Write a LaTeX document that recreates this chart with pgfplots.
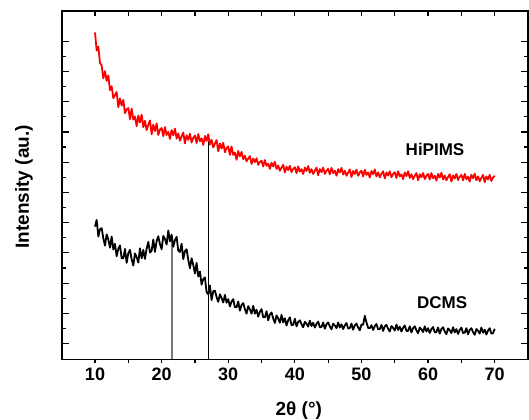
\documentclass[border=0pt]{standalone}
\usepackage{pgfplots}
\pgfplotsset{compat=1.18}
\usepackage{fontspec}
\setmainfont{Liberation Sans}
\definecolor{vgray}{RGB}{120,120,120}
\begin{document}
\begin{tikzpicture}
\pgfplotsset{
  common/.style={
    at={(30.85pt,29.85pt)}, anchor=south west,
    width=233.15pt, height=174.15pt, scale only axis,
    xmin=5, xmax=75, ymin=-0.52, ymax=11,
    axis line style={line width=0.8pt, black},
    every tick/.style={line width=0.6pt, black},
  }
}
% top ticks (inside)
\begin{axis}[common, hide y axis, xtick={5,10,...,75}, xtick pos=right,
  tick align=inside, major tick length=2.5pt, xticklabels={}]
\end{axis}
% bottom ticks (outside) with labels
\begin{axis}[common, hide y axis, xtick={10,20,...,70}, minor x tick num=1,
  xtick pos=left, tick align=outside, major tick length=2pt, minor tick length=2pt,
  xticklabel style={font=\fontsize{9}{10}\selectfont\bfseries, anchor=center, yshift=-5.35pt},
  /pgf/number format/assume math mode=true,
  xlabel={\bfseries 2θ (°)},
  xlabel style={font=\fontsize{9.5}{11}\selectfont, at={(axis description cs:0.5085,-0.146)}, anchor=center}]
\end{axis}
% main axis with data
\begin{axis}[common,
  xtick=\empty,
  ytick={0,1,...,10}, minor y tick num=1, yticklabels={},
  ytick pos=both, tick align=inside,
  major tick length=3.5pt, minor tick length=2pt,
  ylabel={\bfseries Intensity (au.)},
  ylabel style={font=\fontsize{9.5}{11}\selectfont, at={(axis description cs:-0.0809,0.495)}, anchor=center},
]
\addplot[vgray, line width=1pt, mark=none] coordinates {(21.5,-0.52) (21.5,3.5)};
\addplot[black, line width=0.55pt, mark=none] coordinates {(27.1,-0.52) (27.1,6.70)};
\addplot[red, line width=0.9pt, line join=round, mark=none] coordinates {
(10.00,10.29) (10.25,9.69) (10.50,9.82) (10.75,9.28) (11.00,9.20) (11.25,8.77) (11.50,9.01) (11.75,8.69)
(12.00,8.87) (12.25,8.38) (12.50,8.51) (12.75,8.12) (13.00,8.22) (13.25,8.32) (13.50,7.82) (13.75,8.11)
(14.00,7.87) (14.25,8.06) (14.50,7.62) (14.75,7.75) (15.00,7.79) (15.25,7.42) (15.50,7.77) (15.75,7.41)
(16.00,7.51) (16.25,7.19) (16.50,7.54) (16.75,7.31) (17.00,7.57) (17.25,7.16) (17.50,7.37) (17.75,7.06)
(18.00,7.24) (18.25,7.38) (18.50,6.92) (18.75,7.24) (19.00,7.03) (19.25,7.28) (19.50,6.90) (19.75,7.08)
(20.00,7.13) (20.25,6.86) (20.50,7.16) (20.75,6.90) (21.00,7.00) (21.25,6.77) (21.50,7.06) (21.75,6.89)
(22.00,7.11) (22.25,6.78) (22.50,6.95) (22.75,6.71) (23.00,6.85) (23.25,6.98) (23.50,6.62) (23.75,6.89)
(24.00,6.74) (24.25,6.94) (24.50,6.65) (24.75,6.81) (25.00,6.88) (25.25,6.63) (25.50,6.93) (25.75,6.69)
(26.00,6.79) (26.25,6.57) (26.50,6.87) (26.75,6.70) (27.00,6.92) (27.25,6.58) (27.50,6.74) (27.75,6.49)
(28.00,6.61) (28.25,6.73) (28.50,6.36) (28.75,6.62) (29.00,6.45) (29.25,6.64) (29.50,6.33) (29.75,6.47)
(30.00,6.52) (30.25,6.24) (30.50,6.52) (30.75,6.24) (31.00,6.32) (31.25,6.08) (31.50,6.37) (31.75,6.19)
(32.00,6.34) (32.25,6.10) (32.50,6.21) (32.75,6.03) (33.00,6.12) (33.25,6.20) (33.50,5.94) (33.75,6.12)
(34.00,6.00) (34.25,6.13) (34.50,5.91) (34.75,6.01) (35.00,6.05) (35.25,5.86) (35.50,6.07) (35.75,5.88)
(36.00,5.95) (36.25,5.78) (36.50,5.98) (36.75,5.86) (37.00,6.01) (37.25,5.78) (37.50,5.89) (37.75,5.72)
(38.00,5.82) (38.25,5.91) (38.50,5.66) (38.75,5.85) (39.00,5.74) (39.25,5.88) (39.50,5.67) (39.75,5.78)
(40.00,5.83) (40.25,5.64) (40.50,5.86) (40.75,5.69) (41.00,5.77) (41.25,5.61) (41.50,5.82) (41.75,5.71)
(42.00,5.87) (42.25,5.65) (42.50,5.77) (42.75,5.61) (43.00,5.72) (43.25,5.82) (43.50,5.57) (43.75,5.77)
(44.00,5.67) (44.25,5.82) (44.50,5.61) (44.75,5.72) (45.00,5.78) (45.25,5.60) (45.50,5.81) (45.75,5.64)
(46.00,5.72) (46.25,5.55) (46.50,5.77) (46.75,5.66) (47.00,5.81) (47.25,5.59) (47.50,5.72) (47.75,5.55)
(48.00,5.66) (48.25,5.76) (48.50,5.51) (48.75,5.71) (49.00,5.61) (49.25,5.75) (49.50,5.55) (49.75,5.66)
(50.00,5.72) (50.25,5.53) (50.50,5.75) (50.75,5.58) (51.00,5.66) (51.25,5.49) (51.50,5.71) (51.75,5.60)
(52.00,5.76) (52.25,5.53) (52.50,5.66) (52.75,5.50) (53.00,5.61) (53.25,5.70) (53.50,5.46) (53.75,5.66)
(54.00,5.56) (54.25,5.70) (54.50,5.50) (54.75,5.61) (55.00,5.67) (55.25,5.48) (55.50,5.70) (55.75,5.53)
(56.00,5.60) (56.25,5.44) (56.50,5.66) (56.75,5.54) (57.00,5.70) (57.25,5.48) (57.50,5.60) (57.75,5.44)
(58.00,5.55) (58.25,5.64) (58.50,5.40) (58.75,5.60) (59.00,5.50) (59.25,5.64) (59.50,5.44) (59.75,5.55)
(60.00,5.61) (60.25,5.43) (60.50,5.64) (60.75,5.47) (61.00,5.55) (61.25,5.39) (61.50,5.61) (61.75,5.49)
(62.00,5.65) (62.25,5.43) (62.50,5.56) (62.75,5.40) (63.00,5.51) (63.25,5.60) (63.50,5.36) (63.75,5.56)
(64.00,5.46) (64.25,5.61) (64.50,5.41) (64.75,5.52) (65.00,5.58) (65.25,5.40) (65.50,5.61) (65.75,5.44)
(66.00,5.52) (66.25,5.36) (66.50,5.58) (66.75,5.47) (67.00,5.62) (67.25,5.40) (67.50,5.53) (67.75,5.37)
(68.00,5.48) (68.25,5.58) (68.50,5.34) (68.75,5.53) (69.00,5.43) (69.25,5.58) (69.50,5.38) (69.75,5.49)
(70.00,5.55)
};
\addplot[black, line width=0.9pt, line join=round, mark=none] coordinates {
(10.00,3.87) (10.25,4.09) (10.50,3.54) (10.75,3.78) (11.00,3.82) (11.25,3.48) (11.50,3.24) (11.75,3.61)
(12.00,3.44) (12.25,3.17) (12.50,3.54) (12.75,3.11) (13.00,3.30) (13.25,2.89) (13.50,3.13) (13.75,3.25)
(14.00,2.82) (14.25,2.82) (14.50,3.13) (14.75,2.67) (15.00,2.99) (15.25,3.10) (15.50,2.79) (15.75,2.58)
(16.00,2.98) (16.25,2.86) (16.50,2.68) (16.75,3.15) (17.00,2.82) (17.25,3.10) (17.50,2.80) (17.75,3.14)
(18.00,3.36) (18.25,3.01) (18.50,3.07) (18.75,3.44) (19.00,3.03) (19.25,3.39) (19.50,3.55) (19.75,3.29)
(20.00,3.12) (20.25,3.56) (20.50,3.46) (20.75,3.28) (21.00,3.74) (21.25,3.38) (21.50,3.60) (21.75,3.20)
(22.00,3.42) (22.25,3.53) (22.50,3.07) (22.75,3.03) (23.00,3.30) (23.25,2.79) (23.50,3.06) (23.75,3.12)
(24.00,2.77) (24.25,2.49) (24.50,2.82) (24.75,2.60) (25.00,2.32) (25.25,2.67) (25.50,2.22) (25.75,2.38)
(26.00,1.95) (26.25,2.13) (26.50,2.19) (26.75,1.70) (27.00,1.63) (27.25,1.92) (27.50,1.44) (27.75,1.73)
(28.00,1.75) (28.25,1.54) (28.50,1.38) (28.75,1.63) (29.00,1.51) (29.25,1.36) (29.50,1.61) (29.75,1.35)
(30.00,1.47) (30.25,1.23) (30.50,1.39) (30.75,1.47) (31.00,1.20) (31.25,1.20) (31.50,1.39) (31.75,1.09)
(32.00,1.28) (32.25,1.34) (32.50,1.14) (32.75,0.99) (33.00,1.24) (33.25,1.13) (33.50,0.99) (33.75,1.25)
(34.00,0.99) (34.25,1.12) (34.50,0.89) (34.75,1.05) (35.00,1.14) (35.25,0.87) (35.50,0.87) (35.75,1.07)
(36.00,0.77) (36.25,0.96) (36.50,1.03) (36.75,0.83) (37.00,0.68) (37.25,0.93) (37.50,0.83) (37.75,0.69)
(38.00,0.95) (38.25,0.70) (38.50,0.84) (38.75,0.60) (39.00,0.77) (39.25,0.87) (39.50,0.61) (39.75,0.62)
(40.00,0.82) (40.25,0.57) (40.50,0.72) (40.75,0.77) (41.00,0.64) (41.25,0.54) (41.50,0.72) (41.75,0.66)
(42.00,0.56) (42.25,0.76) (42.50,0.58) (42.75,0.69) (43.00,0.53) (43.25,0.65) (43.50,0.73) (43.75,0.54)
(44.00,0.55) (44.25,0.70) (44.50,0.49) (44.75,0.64) (45.00,0.70) (45.25,0.57) (45.50,0.47) (45.75,0.66)
(46.00,0.60) (46.25,0.51) (46.50,0.70) (46.75,0.53) (47.00,0.64) (47.25,0.48) (47.50,0.60) (47.75,0.68)
(48.00,0.50) (48.25,0.51) (48.50,0.66) (48.75,0.46) (49.00,0.60) (49.25,0.66) (49.50,0.53) (49.75,0.44)
(50.00,0.63) (50.25,0.62) (50.50,0.92) (50.75,0.70) (51.00,0.52) (51.25,0.51) (51.50,0.61) (51.75,0.45)
(52.00,0.58) (52.25,0.65) (52.50,0.47) (52.75,0.48) (53.00,0.62) (53.25,0.42) (53.50,0.57) (53.75,0.62)
(54.00,0.49) (54.25,0.40) (54.50,0.58) (54.75,0.52) (55.00,0.43) (55.25,0.63) (55.50,0.45) (55.75,0.56)
(56.00,0.40) (56.25,0.52) (56.50,0.60) (56.75,0.42) (57.00,0.42) (57.25,0.57) (57.50,0.37) (57.75,0.51)
(58.00,0.57) (58.25,0.44) (58.50,0.34) (58.75,0.53) (59.00,0.47) (59.25,0.38) (59.50,0.57) (59.75,0.40)
(60.00,0.51) (60.25,0.35) (60.50,0.48) (60.75,0.55) (61.00,0.37) (61.25,0.38) (61.50,0.53) (61.75,0.33)
(62.00,0.48) (62.25,0.54) (62.50,0.40) (62.75,0.31) (63.00,0.50) (63.25,0.44) (63.50,0.35) (63.75,0.54)
(64.00,0.37) (64.25,0.48) (64.50,0.32) (64.75,0.45) (65.00,0.53) (65.25,0.35) (65.50,0.36) (65.75,0.51)
(66.00,0.31) (66.25,0.45) (66.50,0.51) (66.75,0.38) (67.00,0.29) (67.25,0.48) (67.50,0.42) (67.75,0.33)
(68.00,0.53) (68.25,0.36) (68.50,0.46) (68.75,0.30) (69.00,0.43) (69.25,0.51) (69.50,0.33) (69.75,0.34)
(70.00,0.49)
};
\node[font=\fontsize{8.5}{10}\selectfont\bfseries, anchor=center] at (axis cs:61.04,6.41) {HiPIMS};
\node[font=\fontsize{8.5}{10}\selectfont\bfseries, anchor=center] at (axis cs:62.1,1.34) {DCMS};
\end{axis}
\pgfresetboundingbox
\useasboundingbox (0,0) rectangle (264.5pt,209.5pt);
\end{tikzpicture}
\end{document}
